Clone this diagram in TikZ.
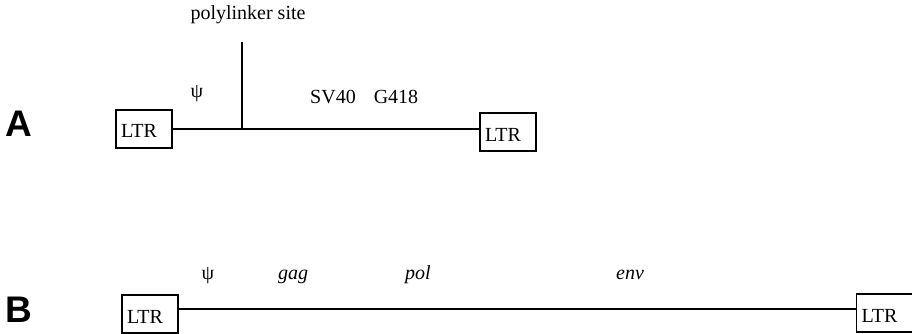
\documentclass[tikz,border=0pt]{standalone}
\usepackage{fontspec}
\setmainfont{Liberation Serif}
\newfontfamily\panelfont{Liberation Sans}
\usetikzlibrary{calc,positioning}
\tikzset{
    ltr box/.style={
        draw,line width=1.8pt,
        fill=white,inner ysep=0pt,inner xsep=5pt,
        text width=46pt,align=left,
        text height=28pt,text depth=10pt,
        font=\fontsize{20}{20}\selectfont
    },
    gene/.style={anchor=base,inner sep=0pt,font=\fontsize{20}{20}\selectfont},
    panel/.style={inner sep=0pt,font=\panelfont\bfseries\fontsize{37}{37}\selectfont},
    backbone/.style={line width=1.9pt}
}
\begin{document}
\begin{tikzpicture}[x=1pt,y=-1pt]
\useasboundingbox (0,0) rectangle (912,334);
% panel A: vector
\node[panel] (panel_a) at (19,124) {A};
\node[ltr box] (ltr_a1) at (144,129) {LTR};
\node[ltr box] (ltr_a2) at (508,132) {LTR};
\coordinate (site) at (242,0 |- ltr_a1.east);
\coordinate (site_top) at (242,42);
\draw[backbone] (ltr_a1.east) -- (ltr_a1.east -| ltr_a2.west);
\draw[backbone] (site) -- (site_top);
\node[gene] (site_lbl) at (248,20) {polylinker site};
\node[gene] (psi_a) at (197,98) {ψ};
\node[gene] (sv40) at (333,103) {SV40};
\node[gene] (g418) at (396,103) {G418};
% panel B: provirus
\node[panel] (panel_b) at (19,310) {B};
\node[ltr box] (ltr_b1) at (150,314) {LTR};
\node[ltr box] (ltr_b2) at (884.5,313) {LTR};
\draw[backbone] (ltr_b1.east |- 0,309) -- (ltr_b2.west |- 0,309);
\foreach \x/\name/\txt in {208/psi_b/ψ,293/gag/\textit{gag},418/pol/\textit{pol},630/env/\textit{env}}
    \node[gene] (\name) at (\x,279) {\txt};
\end{tikzpicture}
\end{document}
